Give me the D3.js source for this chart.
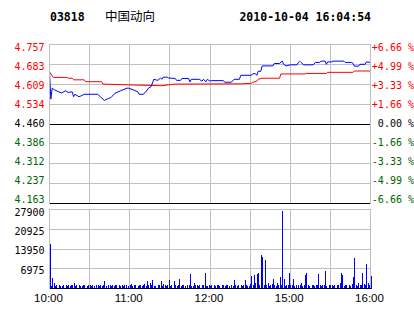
<!DOCTYPE html>
<html>
<head>
<meta charset="utf-8">
<script src="https://cdn.jsdelivr.net/npm/d3@7"></script>
<style>
  body { margin: 0; background: #fff; }
  text { white-space: pre; }
</style>
</head>
<body>
<div id="chart"></div>
<script>
// stock header
const code = '03818';
const name = '中国动向';
const stamp = '2010-10-04 16:04:54';
const prevClose = 4.460;

// price axis labels (left) and percent labels (right), top to bottom
const priceTicks = ['4.757', '4.683', '4.609', '4.534', '4.460', '4.386', '4.312', '4.237', '4.163'];
const pctTicks = ['+6.66 %', '+4.99 %', '+3.33 %', '+1.66 %', ' 0.00 %', '-1.66 %', '-3.33 %', '-4.99 %', '-6.66 %'];
const volTicks = [27900, 20925, 13950, 6975];
const timeTicks = [[0, '10:00'], [60, '11:00'], [120, '12:00'], [180, '15:00'], [240, '16:00']];

// price line: minute index (0 = 10:00, 240 = 16:00) and price
const priceMin = [0, 1, 2, 3, 4, 7, 9, 12, 14, 17, 18, 19, 22, 24, 26, 36, 38, 41, 44, 46, 49, 53, 58, 59,
  63, 66, 67, 70, 72, 74, 76, 78, 81, 83, 84, 85, 88, 89, 94, 95, 98, 99, 104, 105, 106, 112, 114, 115,
  117, 118, 120, 121, 130, 131, 136, 138, 142, 143, 151, 152, 154, 155, 156, 158, 159, 167, 168, 172,
  174, 175, 177, 180, 185, 186, 187, 188, 190, 197, 199, 202, 203, 206, 207, 208, 211, 212, 220, 221,
  226, 227, 228, 231, 232, 236, 237, 240];
const priceVal = [4.655, 4.553, 4.594, 4.590, 4.587, 4.580, 4.576, 4.584, 4.578, 4.580, 4.562, 4.571,
  4.562, 4.566, 4.571, 4.571, 4.562, 4.548, 4.555, 4.559, 4.575, 4.584, 4.594, 4.594,
  4.587, 4.580, 4.571, 4.571, 4.580, 4.594, 4.600, 4.627, 4.623, 4.632, 4.627, 4.635, 4.635, 4.632,
  4.630, 4.623, 4.623, 4.630, 4.630, 4.617, 4.627, 4.627, 4.620, 4.627,
  4.618, 4.627, 4.620, 4.622, 4.622, 4.616, 4.616, 4.627, 4.627, 4.642, 4.642, 4.648, 4.648, 4.642,
  4.657, 4.657, 4.677, 4.677, 4.686, 4.686,
  4.695, 4.683, 4.677, 4.681, 4.681, 4.690, 4.695, 4.690, 4.681, 4.681, 4.690, 4.690, 4.695, 4.695,
  4.683, 4.692, 4.692, 4.695, 4.695, 4.690,
  4.690, 4.686, 4.676, 4.676, 4.683, 4.683, 4.692, 4.690];

// average price line
const avgMin = [0, 2, 3, 13, 14, 17, 18, 26, 27, 39, 40, 60, 84, 93, 143, 151, 152, 155, 156, 159, 172,
  173, 191, 192, 207, 208, 227, 228, 240];
const avgVal = [4.655, 4.640, 4.634, 4.634, 4.631, 4.631, 4.625, 4.625, 4.618, 4.618, 4.609, 4.606,
  4.603, 4.609, 4.610, 4.612, 4.616, 4.620, 4.627, 4.631, 4.631,
  4.647, 4.647, 4.649, 4.649, 4.653, 4.653, 4.658, 4.658];

// volume per minute, 10:00 .. 16:00
const volume = [
  15600, 800, 3700, 2100, 900, 1100, 0, 1200, 1000, 900,
  1300, 0, 1100, 1000, 1200, 900, 1400, 1100, 2100, 1000,
  1200, 0, 1300, 1000, 900, 1100, 1200, 0, 1000, 1300,
  1100, 900, 1200, 1000, 0, 1400, 1100, 1000, 1200, 900,
  1300, 2570, 1000, 0, 1200, 1100, 900, 1300, 1000, 1200,
  1100, 0, 1400, 1000, 1200, 900, 1300, 1100, 0, 1000,
  1200, 1500, 900, 1100, 1300, 0, 1000, 1200, 1100, 900,
  1300, 1600, 1000, 2570, 1200, 1800, 1100, 2900, 1000, 900,
  0, 1300, 1100, 2570, 1000, 1500, 1200, 900, 1100, 2900,
  1000, 1300, 0, 2570, 1100, 1000, 1200, 3200, 900, 1100,
  1300, 1000, 0, 1200, 1100, 5280, 1000, 900, 2100, 1100,
  1200, 1000, 1300, 0, 1100, 1200, 5630, 1000, 900, 1100,
  1000, 1100, 0, 1200, 1000, 1100, 1300, 1000, 0, 1200,
  1100, 1000, 1300, 1200, 900, 0, 1100, 1000, 3000, 1200,
  1000, 1100, 0, 1300, 1000, 1200, 2900, 1100, 900, 1000,
  1500, 4440, 1200, 4900, 2100, 5280, 5630, 1300, 11960, 11130,
  1400, 9960, 1200, 1800, 1000, 1100, 1500, 3270, 1200, 1000,
  1800, 1300, 4090, 1100, 27200, 3500, 1000, 1200, 1400, 5630,
  1300, 1100, 3270, 1000, 1200, 0, 1100, 1300, 2100, 1000,
  1200, 4680, 5390, 1100, 1000, 0, 1300, 1200, 1000, 1100,
  1400, 5040, 1200, 1000, 1300, 1100, 6090, 1000, 0, 1200,
  1300, 1100, 1000, 1200, 0, 1100, 1300, 2100, 5630, 4680,
  1000, 1200, 1100, 0, 1300, 1000, 1500, 4090, 10780, 1200,
  1000, 2100, 1400, 1300, 5630, 1600, 1100, 8550, 1800, 1300,
  4330];

let width = 414;
let height = 314;
let left = 49.5;
let right = 370.5;
let pTop = 44.5;
let pBottom = 203.5;
let vTop = 209.5;
let vBottom = 288.5;
let gridColor = '#c0c0c0';
let mono = '"DejaVu Sans Mono", monospace';

let svg = d3.select('#chart').append('svg').attr('width', width).attr('height', height);

let xScale = d3.scaleLinear().domain([0, 240]).range([left, right]);
let yScale = d3.scaleLinear().domain([4.163, 4.757]).range([pBottom, pTop]);
let vScale = d3.scaleLinear().domain([0, 27900]).range([vBottom, vTop]);
let gridY = d3.scaleLinear().domain([0, 8]).range([pTop, pBottom]);
let labelY = d3.scaleLinear().domain([0, 8]).range([47.5, 199.5]);
let volLabelY = d3.scaleLinear().domain([0, 3]).range([212.5, 270]);

//header
svg.append('text').text(code).attr('x', 50).attr('y', 20.5)
  .style('font-family', mono).style('font-weight', 'bold').style('font-size', '11.5px');
svg.append('text').text(name).attr('x', 105).attr('y', 20.5)
  .style('font-family', '"Noto Sans CJK SC"').style('font-size', '12.5px');
svg.append('text').text(stamp).attr('x', 371).attr('y', 20.5).attr('text-anchor', 'end')
  .style('font-family', mono).style('font-weight', 'bold').style('font-size', '11.5px');

//vertical grid, every 30 minutes
let grid = svg.append('g').attr('shape-rendering', 'crispEdges');
d3.range(0, 241, 30).forEach((m) => {
  [[pTop, pBottom], [vTop, vBottom]].forEach((r) => {
    grid.append('line')
      .attr('x1', xScale(m)).attr('x2', xScale(m))
      .attr('y1', r[0]).attr('y2', r[1])
      .attr('stroke', gridColor);
  });
});

//horizontal grid, price
d3.range(0, 9).forEach((i) => {
  let black = i === 4 || i === 8;
  grid.append('line')
    .attr('x1', left).attr('x2', right)
    .attr('y1', gridY(i)).attr('y2', gridY(i))
    .attr('stroke', black ? '#000' : gridColor);
});

//horizontal grid, volume
volTicks.forEach((v) => {
  grid.append('line')
    .attr('x1', left).attr('x2', right)
    .attr('y1', vScale(v)).attr('y2', vScale(v))
    .attr('stroke', gridColor);
});

//price axis labels
let colorFor = (i) => (i < 4 ? '#ff0000' : i === 4 ? '#000000' : '#006600');
priceTicks.forEach((t, i) => {
  svg.append('text').text(t)
    .attr('x', 44.5).attr('y', labelY(i)).attr('dy', '0.35em')
    .attr('text-anchor', 'end').attr('fill', colorFor(i))
    .style('font-family', mono).style('font-size', '10px');
});
pctTicks.forEach((t, i) => {
  svg.append('text').text(t)
    .attr('x', 414).attr('y', labelY(i)).attr('dy', '0.35em')
    .attr('text-anchor', 'end').attr('fill', colorFor(i))
    .style('font-family', mono).style('font-size', '10px');
});

//volume axis labels
volTicks.forEach((v, i) => {
  svg.append('text').text(v)
    .attr('x', 44.5).attr('y', volLabelY(i)).attr('dy', '0.35em')
    .attr('text-anchor', 'end')
    .style('font-family', mono).style('font-size', '10px');
});

//time labels
timeTicks.forEach((t) => {
  svg.append('text').text(t[1])
    .attr('x', xScale(t[0]) - 1).attr('y', 302)
    .attr('text-anchor', 'middle')
    .style('font-family', '"Liberation Sans", Arial, sans-serif').style('font-size', '11.5px');
});

//average line
let line = d3.line().x((d) => xScale(d[0])).y((d) => yScale(d[1]));
svg.append('path')
  .datum(avgMin.map((m, i) => [m, avgVal[i]]))
  .attr('d', line)
  .attr('fill', 'none').attr('stroke', '#ff0000').attr('stroke-width', 1);

//price line
svg.append('path')
  .datum(priceMin.map((m, i) => [m, priceVal[i]]))
  .attr('d', line)
  .attr('fill', 'none').attr('stroke', '#0000ff').attr('stroke-width', 1);

//volume bars
svg.append('g').attr('shape-rendering', 'crispEdges')
  .selectAll('line')
  .data(volume)
  .enter()
  .append('line')
  .attr('x1', (d, i) => Math.round(xScale(i)) + 0.5)
  .attr('x2', (d, i) => Math.round(xScale(i)) + 0.5)
  .attr('y1', vBottom)
  .attr('y2', (d) => vScale(d))
  .attr('stroke', '#0000ff');

//borders
let border = svg.append('g').attr('shape-rendering', 'crispEdges').attr('fill', 'none');
border.append('path')
  .attr('d', `M${left},${pBottom}V${pTop}H${right}V${pBottom}`)
  .attr('stroke', gridColor);
border.append('path')
  .attr('d', `M${left},${vBottom}V${vTop}H${right}V${vBottom}`)
  .attr('stroke', gridColor);
border.append('line')
  .attr('x1', left).attr('x2', right).attr('y1', vBottom).attr('y2', vBottom)
  .attr('stroke', '#000');
</script>
</body>
</html>
